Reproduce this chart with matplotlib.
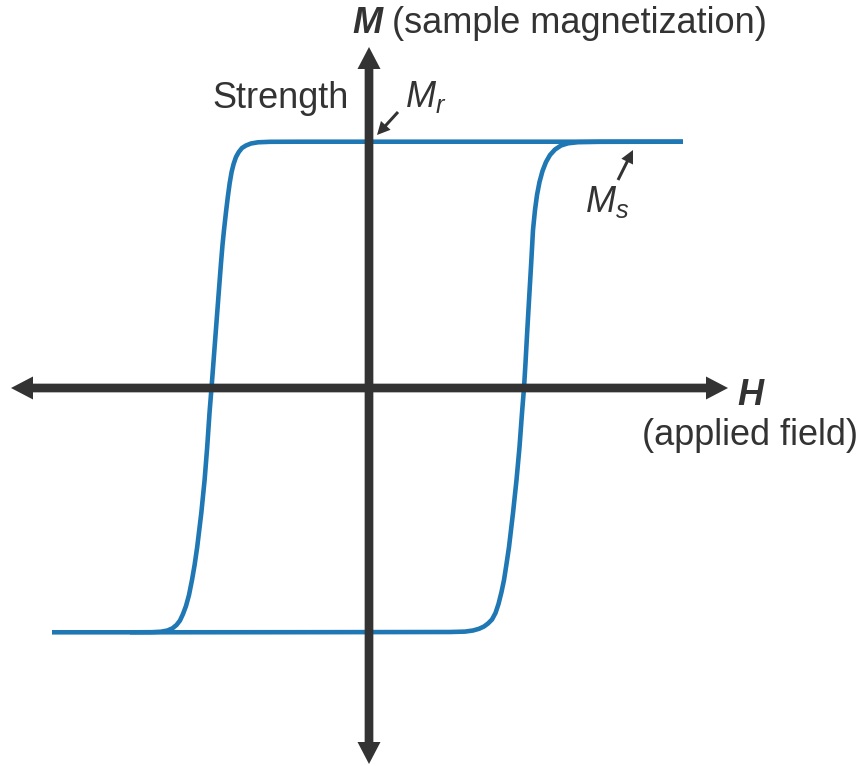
import matplotlib.pyplot as plt

plt.rcParams['font.family'] = ['Liberation Sans', 'DejaVu Sans']
plt.rcParams['mathtext.fontset'] = 'custom'
plt.rcParams['mathtext.rm'] = 'Liberation Sans'
plt.rcParams['mathtext.it'] = 'Liberation Sans:italic'
plt.rcParams['mathtext.bf'] = 'Liberation Sans:bold'

# Hysteresis loop (H, M in arbitrary units)
# descending branch: right saturation -> left saturation
down_h = [3.14, 2.11, 0.31, -0.69, -0.99, -1.11, -1.18, -1.23, -1.27, -1.302,
          -1.33, -1.354, -1.374, -1.393, -1.412, -1.43, -1.45, -1.465, -1.48,
          -1.506, -1.531, -1.556, -1.575, -1.595, -1.618, -1.644, -1.677,
          -1.718, -1.744, -1.77, -1.80, -1.83, -1.86, -1.89, -1.925, -1.965,
          -2.015, -2.08, -2.17, -2.39, -3.17]
down_m = [2.463, 2.463, 2.463, 2.463, 2.462, 2.457, 2.445, 2.425, 2.40, 2.36,
          2.31, 2.24, 2.16, 2.05, 1.91, 1.76, 1.58, 1.43, 1.25,
          0.91, 0.58, 0.25, 0.0, -0.25, -0.59, -0.92, -1.25,
          -1.59, -1.77, -1.92, -2.07, -2.18, -2.26, -2.325, -2.37, -2.403,
          -2.425, -2.437, -2.442, -2.443, -2.443]

# ascending branch: left saturation -> right saturation
up_h = [-2.39, -0.69, 0.81, 0.96, 1.04, 1.10, 1.15, 1.19, 1.23, 1.265, 1.295,
        1.325, 1.35, 1.375, 1.40, 1.44, 1.475, 1.505, 1.53, 1.55, 1.565,
        1.583, 1.602, 1.622, 1.64, 1.66, 1.68, 1.705, 1.735, 1.77, 1.81,
        1.86, 1.92, 1.99, 2.09, 2.31, 3.14]
up_m = [-2.443, -2.442, -2.44, -2.436, -2.425, -2.408, -2.385, -2.355, -2.315,
        -2.25, -2.16, -2.04, -1.92, -1.76, -1.59, -1.25, -0.92, -0.59, -0.25,
        0.0, 0.25, 0.58, 0.91, 1.25, 1.58, 1.78, 1.93, 2.06, 2.17, 2.26, 2.33,
        2.385, 2.425, 2.447, 2.458, 2.462, 2.463]

# axis extents
h_left, h_right = -3.58, 3.59
m_bottom, m_top = -3.76, 3.41

dark = '#333333'
blue = '#1f77b4'

fig = plt.figure(figsize=(8.63, 7.66), dpi=100)
ax = fig.add_axes([0, 0, 1, 1])
ax.set_xlim(-3.69, 4.94)
ax.set_ylim(-3.78, 3.88)
ax.axis('off')

ax.plot(down_h, down_m, color=blue, lw=3.3, solid_joinstyle='round',
        solid_capstyle='butt', zorder=2)
ax.plot(up_h, up_m, color=blue, lw=3.3, solid_joinstyle='round',
        solid_capstyle='butt', zorder=2)

# main axes with arrow heads
arrow_kw = dict(width=0.087, head_width=0.23, head_length=0.22,
                length_includes_head=True, color=dark, lw=0, zorder=3)
ax.arrow(0, 0, h_right, 0, **arrow_kw)
ax.arrow(0, 0, h_left, 0, **arrow_kw)
ax.arrow(0, 0, 0, m_top, **arrow_kw)
ax.arrow(0, 0, 0, m_bottom, **arrow_kw)

# small pointer arrows
small_kw = dict(width=0.03, head_width=0.13, head_length=0.13,
                length_includes_head=True, color=dark, lw=0, zorder=3)
ax.arrow(0.29, 2.76, -0.21, -0.23, **small_kw)
ax.arrow(2.49, 2.08, 0.15, 0.30, **small_kw)

fs = 26
ax.text(-0.17, 3.55, 'M', fontsize=fs, fontweight='bold', fontstyle='italic',
        color=dark, va='baseline', ha='left')
ax.text(0.23, 3.55, '(sample magnetization)', fontsize=fs, color=dark,
        va='baseline', ha='left')
ax.text(3.68, -0.17, 'H', fontsize=fs, fontweight='bold', fontstyle='italic',
        color=dark, va='baseline', ha='left')
ax.text(3.81, -0.57, '(applied field)', fontsize=fs, color=dark,
        va='baseline', ha='center')
ax.text(-0.88, 2.90, 'Strength', fontsize=fs, color=dark,
        va='center', ha='center')
ax.text(0.36, 2.81, '$M_r$', fontsize=fs, color=dark, va='baseline', ha='left')
ax.text(2.16, 1.76, '$M_s$', fontsize=fs, color=dark, va='baseline', ha='left')

fig.savefig('out.png', dpi=100)
